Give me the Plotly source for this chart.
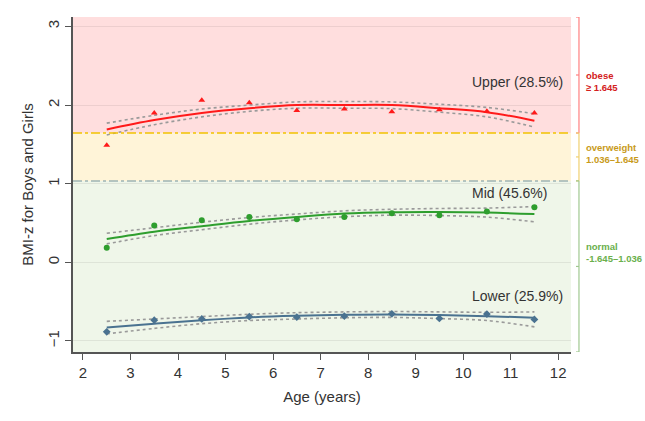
import plotly.graph_objects as go

ages = [2.5, 3.5, 4.5, 5.5, 6.5, 7.5, 8.5, 9.5, 10.5, 11.5]

upper_obs = [1.49, 1.90, 2.06, 2.03, 1.93, 1.95, 1.915, 1.94, 1.92, 1.90]
upper_fit = [1.69, 1.81, 1.90, 1.96, 2.00, 2.00, 2.00, 1.96, 1.91, 1.80]
upper_hi = [1.77, 1.87, 1.95, 2.00, 2.04, 2.045, 2.04, 2.01, 1.97, 1.89]
upper_lo = [1.62, 1.75, 1.85, 1.92, 1.96, 1.96, 1.955, 1.91, 1.85, 1.72]

mid_obs = [0.187, 0.47, 0.535, 0.577, 0.548, 0.577, 0.624, 0.60, 0.646, 0.70]
mid_fit = [0.297, 0.39, 0.46, 0.526, 0.577, 0.62, 0.637, 0.64, 0.633, 0.615]
mid_hi = [0.37, 0.44, 0.51, 0.57, 0.615, 0.655, 0.675, 0.685, 0.69, 0.71]
mid_lo = [0.235, 0.34, 0.415, 0.485, 0.54, 0.58, 0.60, 0.595, 0.575, 0.515]

lower_obs = [-0.883, -0.735, -0.72, -0.69, -0.697, -0.684, -0.654, -0.713, -0.658, -0.726]
lower_fit = [-0.83, -0.78, -0.735, -0.70, -0.68, -0.667, -0.662, -0.67, -0.684, -0.705]
lower_hi = [-0.75, -0.72, -0.69, -0.66, -0.64, -0.63, -0.625, -0.63, -0.635, -0.63]
lower_lo = [-0.91, -0.84, -0.78, -0.74, -0.72, -0.705, -0.70, -0.715, -0.74, -0.82]

x_ticks = [2, 3, 4, 5, 6, 7, 8, 9, 10, 11, 12]
y_ticks = [-1, 0, 1, 2, 3]
cut_obese = 1.645
cut_over = 1.036
y_range = [-1.14, 3.12]
x_range = [1.79, 12.27]

FONT = "Liberation Sans, Arial, sans-serif"
fig = go.Figure()

series = [
    ("Upper", upper_obs, upper_fit, upper_hi, upper_lo, "#ff1a1a", "triangle-up"),
    ("Mid", mid_obs, mid_fit, mid_hi, mid_lo, "#2e9e2e", "circle"),
    ("Lower", lower_obs, lower_fit, lower_hi, lower_lo, "#4a7290", "diamond"),
]
for name, obs, fit, hi, lo, col, sym in series:
    for band in (hi, lo):
        fig.add_trace(go.Scatter(x=ages, y=band, mode="lines", line=dict(color="#9a9a9a", width=1.6, dash="3px,3px", shape="spline"),
                                 showlegend=False, hoverinfo="skip"))
    fig.add_trace(go.Scatter(x=ages, y=fit, mode="lines", line=dict(color=col, width=2, shape="spline"), showlegend=False))
    fig.add_trace(go.Scatter(x=ages, y=obs, mode="markers", marker=dict(color=col, size=6, symbol=sym), showlegend=False))

shapes = [
    dict(type="rect", xref="paper", x0=0, x1=1, yref="y", y0=cut_obese, y1=y_range[1], fillcolor="#ffdede", line_width=0, layer="below"),
    dict(type="rect", xref="paper", x0=0, x1=1, yref="y", y0=cut_over, y1=cut_obese, fillcolor="#fff4d8", line_width=0, layer="below"),
    dict(type="rect", xref="paper", x0=0, x1=1, yref="y", y0=y_range[0], y1=cut_over, fillcolor="#eff6e9", line_width=0, layer="below"),
    dict(type="line", xref="paper", x0=0, x1=1, yref="y", y0=cut_obese, y1=cut_obese, line=dict(color="#f2c200", width=1.5, dash="dashdot")),
    dict(type="line", xref="paper", x0=0, x1=1, yref="y", y0=cut_over, y1=cut_over, line=dict(color="#9fb4b4", width=1.5, dash="dashdot")),
]
bx = 1.016
brackets = [
    (cut_obese, y_range[1], "#ff8080"),
    (cut_over, cut_obese, "#f0d070"),
    (y_range[0], cut_over, "#a0c890"),
]
for y0, y1, c in brackets:
    shapes.append(dict(type="line", xref="paper", x0=bx, x1=bx, yref="y", y0=y0, y1=y1, line=dict(color=c, width=1.2)))
    for yy in (y0, y1, (y0 + y1) / 2):
        shapes.append(dict(type="line", xref="paper", x0=bx - 0.006, x1=bx, yref="y", y0=yy, y1=yy, line=dict(color=c, width=1.2)))

annotations = [
    dict(x=10.15, y=2.29, text="Upper (28.5%)", showarrow=False, xanchor="left", font=dict(size=14, color="#333333", family=FONT)),
    dict(x=10.15, y=0.88, text="Mid (45.6%)", showarrow=False, xanchor="left", font=dict(size=14, color="#333333", family=FONT)),
    dict(x=10.15, y=-0.43, text="Lower (25.9%)", showarrow=False, xanchor="left", font=dict(size=14, color="#333333", family=FONT)),
    dict(xref="paper", x=1.026, y=2.30, text="<b>obese<br>≥ 1.645</b>", showarrow=False, xanchor="left", align="left",
         font=dict(size=9.5, color="#d42020", family=FONT)),
    dict(xref="paper", x=1.026, y=1.39, text="<b>overweight<br>1.036–1.645</b>", showarrow=False, xanchor="left", align="left",
         font=dict(size=9.5, color="#c89a1a", family=FONT)),
    dict(xref="paper", x=1.026, y=0.13, text="<b>normal<br>-1.645–1.036</b>", showarrow=False, xanchor="left", align="left",
         font=dict(size=9.5, color="#6ab04c", family=FONT)),
]

fig.update_layout(
    width=645, height=421,
    margin=dict(l=73, r=74, t=17, b=69),
    paper_bgcolor="white", plot_bgcolor="white",
    font=dict(family=FONT, color="#333333"),
    shapes=shapes, annotations=annotations,
    showlegend=False,
)
fig.update_xaxes(range=x_range, tickvals=x_ticks, ticks="outside", ticklen=6, tickcolor="#555", automargin=False,
                 showline=True, linecolor="#555", linewidth=1.5, showgrid=False, zeroline=False,
                 tickfont=dict(size=15, color="#333"), title=dict(text="Age (years)", font=dict(size=15, color="#333"), standoff=12))
fig.update_yaxes(range=y_range, tickvals=y_ticks, ticks="outside", ticklen=6, tickcolor="#555", tickangle=-90, automargin=False,
                 showline=True, linecolor="#555", linewidth=1.5, showgrid=True, gridcolor="rgba(0,0,0,0.07)", zeroline=False,
                 tickfont=dict(size=15, color="#333"), title=dict(text="BMI-z for Boys and Girls", font=dict(size=15, color="#333"), standoff=8))

fig.write_html("out.html", config={"displayModeBar": False},
               post_script="document.body.style.margin='0';document.body.style.overflow='hidden';")
